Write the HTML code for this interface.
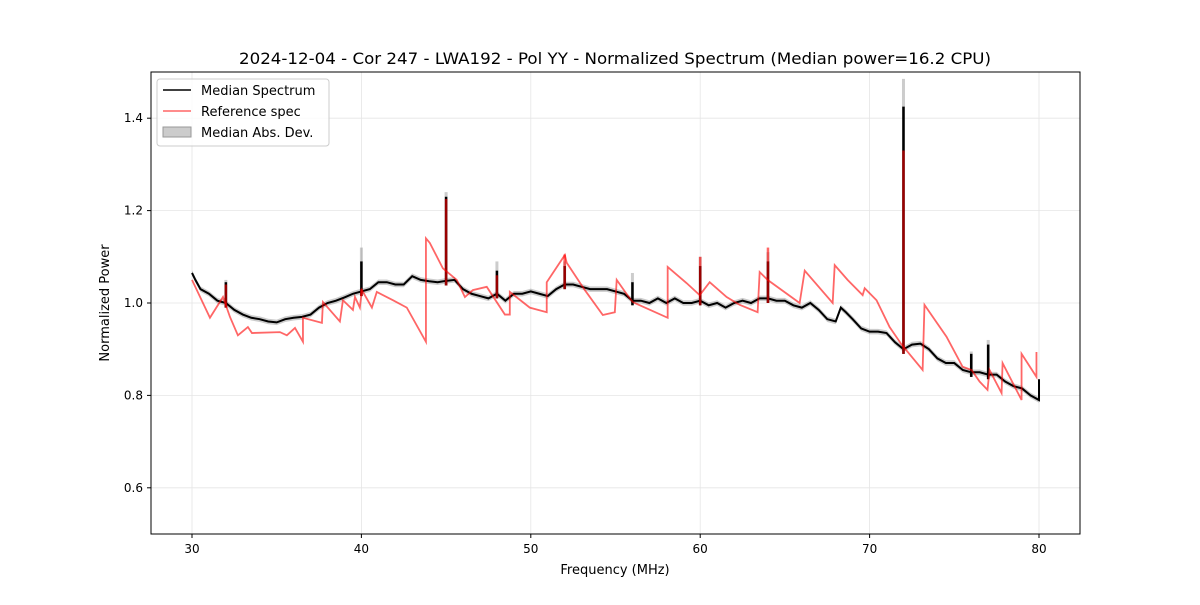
<!DOCTYPE html>
<html><head><meta charset="utf-8"><style>
body{margin:0;background:#fff;font-family:"Liberation Sans","DejaVu Sans",sans-serif;}
svg text{font-family:"DejaVu Sans","Liberation Sans",sans-serif;}
</style></head><body>
<svg id="chart" width="1200" height="600" xmlns="http://www.w3.org/2000/svg">
<rect width="1200" height="600" fill="#fff"/>
<text x="615" y="64" text-anchor="middle" font-size="16" textLength="752" lengthAdjust="spacingAndGlyphs">2024-12-04 - Cor 247 - LWA192 - Pol YY - Normalized Spectrum (Median power=16.2 CPU)</text>
<g id="grid"></g><g id="series"></g><g id="axes"></g>
<text x="615" y="574" text-anchor="middle" font-size="13">Frequency (MHz)</text>
<text transform="translate(109,303) rotate(-90)" text-anchor="middle" font-size="13">Normalized Power</text>
<g>
<rect x="157" y="79" width="172" height="67" fill="#fff" fill-opacity="0.8" stroke="#ccc" rx="3"/>
<line x1="163" y1="90" x2="191" y2="90" stroke="#000" stroke-width="1.5"/>
<text x="201" y="95" font-size="13">Median Spectrum</text>
<line x1="163" y1="111" x2="191" y2="111" stroke="#ff0000" stroke-opacity="0.6" stroke-width="1.5"/>
<text x="201" y="116" font-size="13">Reference spec</text>
<rect x="163" y="127" width="28" height="10" fill="#000" fill-opacity="0.2" stroke="#999"/>
<text x="201" y="137" font-size="13">Median Abs. Dev.</text>
</g>
</svg>
<script>
const medFreq=[30.0,30.2,30.5,31,31.5,32,32.5,33,33.5,34,34.5,35,35.5,36,36.5,37,37.5,38,38.5,39,39.5,40,40.5,41,41.5,42,42.5,43,43.5,44,44.5,45,45.5,46,46.5,47,47.5,48,48.5,49,49.5,50,50.5,51,51.5,52,52.5,53,53.5,54,54.5,55,55.5,56,56.5,57,57.5,58,58.5,59,59.5,60,60.5,61,61.5,62,62.5,63,63.5,64,64.5,65,65.5,66,66.5,67,67.5,68,68.3,68.6,69,69.5,70,70.5,71,71.5,72,72.5,73,73.5,74,74.5,75,75.5,76,76.5,77,77.5,78,78.5,79,79.5,80,80];
const medVal=[1.065,1.05,1.03,1.02,1.005,1.0,0.985,0.975,0.968,0.965,0.96,0.958,0.965,0.968,0.97,0.975,0.99,1.0,1.005,1.012,1.02,1.025,1.03,1.045,1.045,1.04,1.04,1.058,1.05,1.047,1.045,1.048,1.05,1.03,1.02,1.015,1.01,1.02,1.005,1.02,1.02,1.025,1.02,1.015,1.03,1.04,1.04,1.035,1.03,1.03,1.03,1.025,1.02,1.005,1.005,1.0,1.01,1.0,1.01,1.0,1.0,1.005,0.995,1.0,0.99,1.0,1.005,1.0,1.01,1.01,1.005,1.005,0.995,0.99,1.0,0.985,0.965,0.96,0.99,0.98,0.965,0.945,0.938,0.938,0.935,0.915,0.9,0.91,0.912,0.9,0.88,0.87,0.87,0.855,0.85,0.85,0.845,0.845,0.83,0.82,0.815,0.8,0.79,0.835];
const spikeFreq=[32,40,45,48,52,56,60,64,72,76,77];
const spikeVal=[1.045,1.09,1.23,1.07,1.08,1.045,1.08,1.09,1.425,0.89,0.91];
const spikeMad=[1.05,1.12,1.24,1.09,1.09,1.065,1.1,1.11,1.485,0.895,0.92];
const refFreq=[30,31.06,31.83,32.24,32.71,33.30,33.54,35.19,35.60,36.08,36.55,36.55,37.67,37.73,38.73,38.91,39.50,39.62,39.91,40.03,40.62,40.91,41.86,42.68,43.81,43.81,44.04,44.81,45.63,46.11,46.58,47.40,48.47,48.76,48.76,49.94,50.94,50.94,52.01,52.12,53.19,54.25,54.96,55.07,55.84,56.02,58.08,58.08,59.20,59.97,60.56,61.56,62.33,63.39,63.51,63.98,65.87,66.17,67.82,67.94,68.70,69.59,69.71,70.41,71.18,71.89,73.13,73.24,74.54,75.49,76.02,76.49,76.96,77.08,77.79,77.85,78.97,78.97,79.85,79.85];
const refVal=[1.05,0.968,1.013,0.97,0.93,0.948,0.935,0.937,0.93,0.946,0.916,0.968,0.957,1.002,0.96,1.006,0.985,1.013,0.99,1.028,0.99,1.024,1.006,0.99,0.916,1.14,1.13,1.075,1.05,1.013,1.028,1.035,0.975,0.975,1.024,0.99,0.98,1.045,1.104,1.087,1.028,0.974,0.98,1.05,1.01,1.002,0.968,1.078,1.043,1.017,1.045,1.013,0.996,0.98,1.067,1.05,1.0,1.07,1.0,1.082,1.05,1.017,1.032,1.006,0.948,0.91,0.855,0.996,0.927,0.862,0.855,0.83,0.812,0.855,0.805,0.87,0.79,0.89,0.84,0.894];
const refSpikeFreq=[32,40,45,48,52,60,64,72];
const refSpikeVal=[1.04,1.03,1.225,1.06,1.105,1.1,1.12,1.33];
const xTicks=[30,40,50,60,70,80];
const yTicks=[0.6,0.8,1.0,1.2,1.4];

const L=151,R=1080,T=72,B=534,x0=27.58,x1=82.42,y0=0.5,y1=1.5;
const X=f=>L+(f-x0)/(x1-x0)*(R-L);
const Y=v=>B-(v-y0)/(y1-y0)*(B-T);
const NS='http://www.w3.org/2000/svg';
function mk(tag,attrs,parent){const e=document.createElementNS(NS,tag);for(const k in attrs)e.setAttribute(k,attrs[k]);parent.appendChild(e);return e;}
function baseAt(f){const j=medFreq.findIndex(v=>v>=f);return medVal[j]-0.01;}
const grid=document.getElementById('grid'),ser=document.getElementById('series'),ax=document.getElementById('axes');
xTicks.forEach(t=>{
 const g=mk('line',{x1:X(t),x2:X(t),y1:T,y2:B,stroke:'#e5e5e5','stroke-width':0.8},grid);
 
 
 mk('line',{x1:X(t),x2:X(t),y1:B,y2:B+4,stroke:'#000'},ax);
 const tx=mk('text',{x:X(t),y:B+19,'text-anchor':'middle','font-size':12},ax);tx.textContent=t;
 
 
});
yTicks.forEach(t=>{
 const g=mk('line',{x1:L,x2:R,y1:Y(t),y2:Y(t),stroke:'#e5e5e5','stroke-width':0.8},grid);
 
 
 mk('line',{x1:L-4,x2:L,y1:Y(t),y2:Y(t),stroke:'#000'},ax);
 const tx=mk('text',{x:L-8,y:Y(t)+4,'text-anchor':'end','font-size':12},ax);tx.textContent=t.toFixed(1);
 
 
});
const frame=mk('rect',{x:L,y:T,width:R-L,height:B-T,fill:'none',stroke:'#000','stroke-width':1},ax);


let up=medFreq.map((f,i)=>X(f)+','+Y(medVal[i]+0.006)).join(' ');
let dn=medFreq.slice().reverse().map((f,i)=>X(f)+','+Y(medVal[medVal.length-1-i]-0.006)).join(' ');
const band=mk('polygon',{points:up+' '+dn,fill:'#000','fill-opacity':0.2},ser);


spikeFreq.forEach((f,i)=>{const s=mk('line',{x1:X(f),x2:X(f),y1:Y(baseAt(f)),y2:Y(spikeMad[i]),stroke:'#000','stroke-opacity':0.2,'stroke-width':3},ser);
 
 });
const med=mk('polyline',{points:medFreq.map((f,i)=>X(f)+','+Y(medVal[i])).join(' '),fill:'none',stroke:'#000','stroke-width':2},ser);


spikeFreq.forEach((f,i)=>{
 const s=mk('line',{x1:X(f),x2:X(f),y1:Y(baseAt(f)),y2:Y(spikeVal[i]),stroke:'#000','stroke-width':2.5},ser);
 
 });
const ref=mk('polyline',{points:refFreq.map((f,i)=>X(f)+','+Y(refVal[i])).join(' '),fill:'none',stroke:'#ff0000','stroke-opacity':0.6,'stroke-width':1.8},ser);


refSpikeFreq.forEach((f,i)=>{
 const s=mk('line',{x1:X(f),x2:X(f),y1:Y(baseAt(f)),y2:Y(refSpikeVal[i]),stroke:'#ff0000','stroke-opacity':0.6,'stroke-width':2.5},ser);
 
 });
</script>
</body></html>
